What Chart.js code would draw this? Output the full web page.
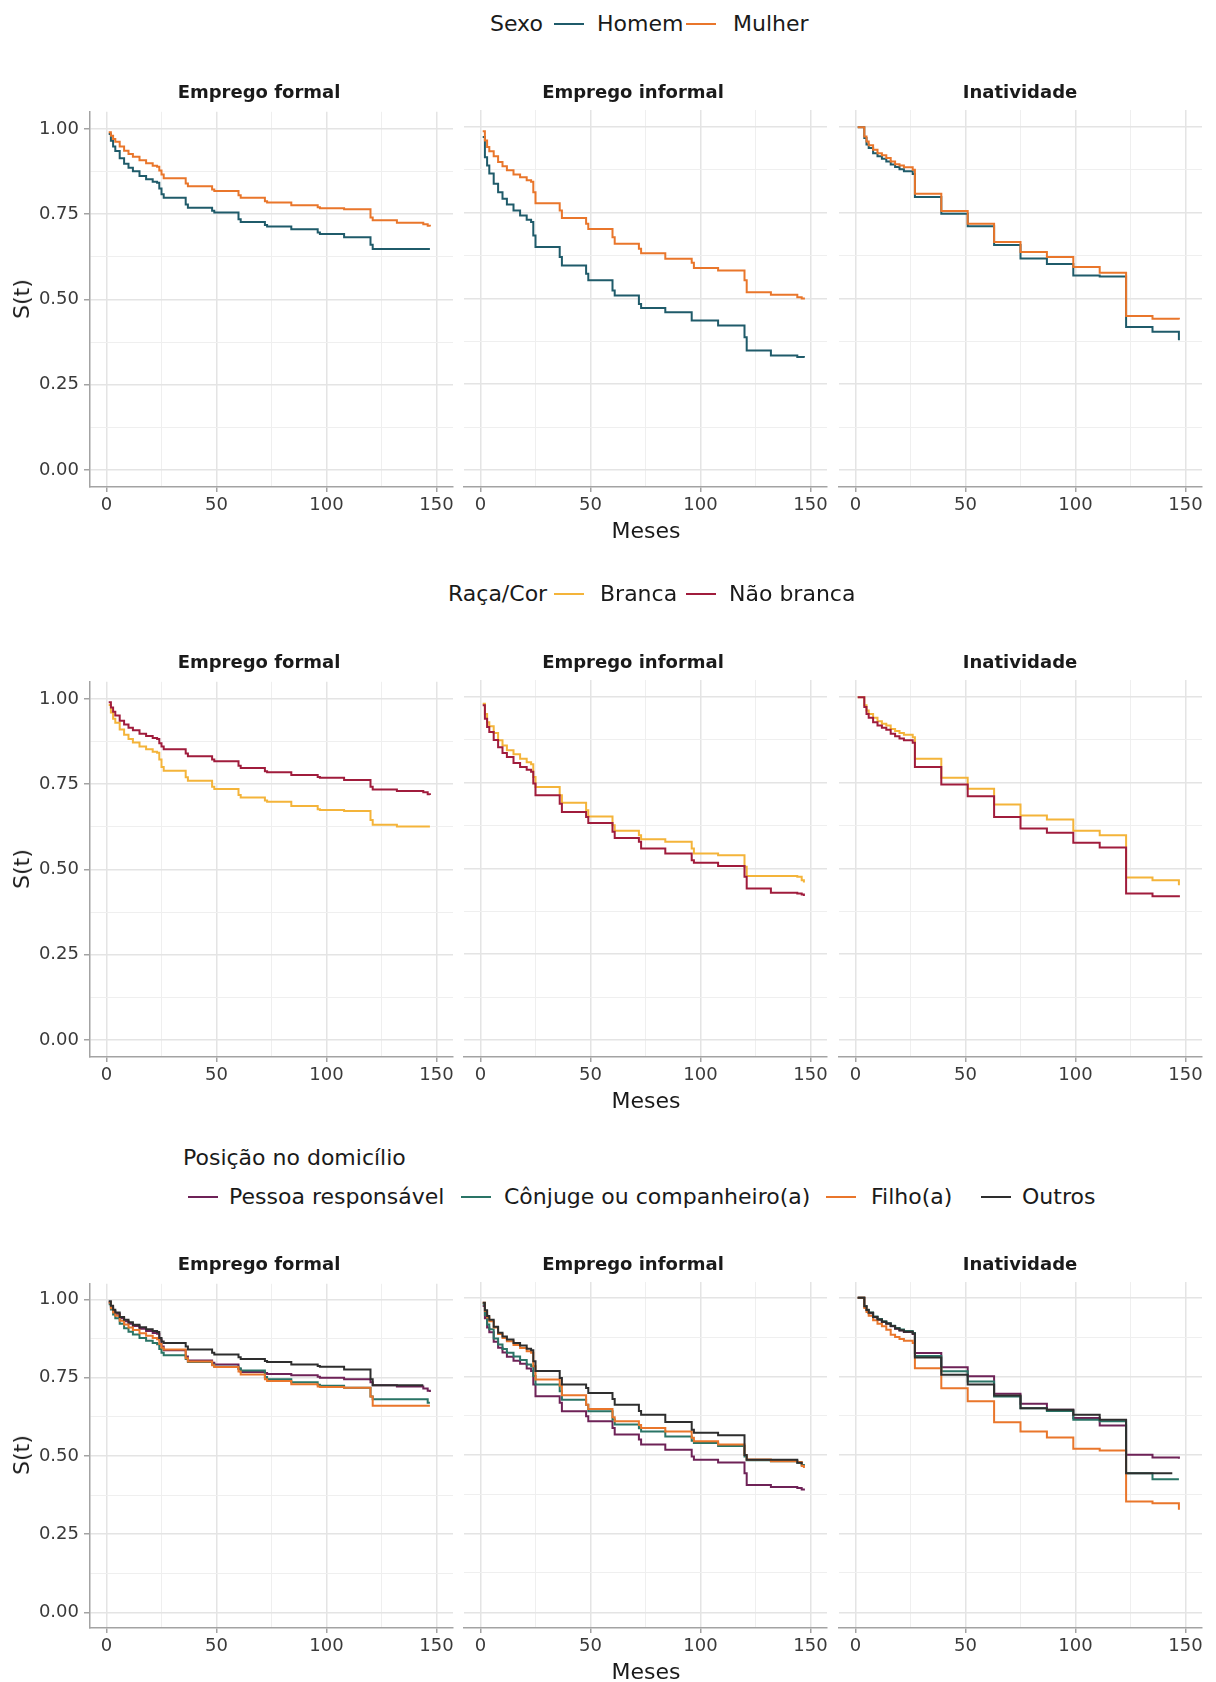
<!DOCTYPE html>
<html>
<head>
<meta charset="utf-8">
<script src="https://cdn.jsdelivr.net/npm/chart.js@4.4.1/dist/chart.umd.min.js"></script>
<style>
  body { margin: 0; background: #fff; font-family: "DejaVu Sans", sans-serif; }
  #page { position: relative; width: 1216px; height: 1682px; overflow: hidden; background: #fff; }
  .txt { position: absolute; white-space: nowrap; color: #1a1a1a; line-height: 1; }
  .key { position: absolute; height: 2px; }
  canvas { position: absolute; }
</style>
</head>
<body>
<div id="page"></div>
<script>
// ---- dados ----
var facetas = ['Emprego formal', 'Emprego informal', 'Inatividade'];

// grade de meses dos paineis de emprego e de inatividade
var mesesEmprego = [1, 2, 3, 4, 6, 8, 10, 12, 15, 18, 21, 23, 24, 25, 26, 36, 37, 48, 49, 60, 61, 72, 73, 84, 96, 97, 108, 120, 121, 132, 144, 146, 147];
var mesesInatividade = [1, 4, 5, 6, 8, 10, 12, 14, 16, 18, 20, 22, 26, 27, 39, 51, 63, 75, 87, 99, 111, 123, 135, 144, 147];

var xTicks = [0, 25, 50, 75, 100, 125, 150];
var xMajor = [0, 50, 100, 150];
var yTicks = [0, 0.125, 0.25, 0.375, 0.5, 0.625, 0.75, 0.875, 1];
var yMajor = [0, 0.25, 0.5, 0.75, 1];

// Sexo
var sexoNomes = ['Homem', 'Mulher'];
var sexoCores = ['#1f5b6a', '#e9762b'];
var formalHomem = [0.985, 0.965, 0.948, 0.935, 0.914, 0.898, 0.886, 0.876, 0.862, 0.852, 0.845, 0.842, 0.825, 0.808, 0.798, 0.778, 0.769, 0.760, 0.755, 0.735, 0.727, 0.718, 0.714, 0.706, 0.696, 0.692, 0.682, 0.660, 0.648, 0.648, 0.648, 0.648, 0.648];
var formalMulher = [0.990, 0.980, 0.970, 0.962, 0.948, 0.936, 0.926, 0.918, 0.908, 0.899, 0.892, 0.889, 0.878, 0.866, 0.855, 0.840, 0.832, 0.822, 0.818, 0.805, 0.798, 0.788, 0.784, 0.776, 0.770, 0.767, 0.764, 0.740, 0.732, 0.725, 0.720, 0.716, 0.714];
var informalHomem = [0.971, 0.912, 0.888, 0.865, 0.835, 0.810, 0.791, 0.774, 0.757, 0.742, 0.730, 0.723, 0.684, 0.650, 0.650, 0.621, 0.596, 0.572, 0.553, 0.523, 0.509, 0.484, 0.472, 0.460, 0.436, 0.436, 0.421, 0.387, 0.348, 0.334, 0.329, 0.329, 0.327];
var informalMulher = [0.988, 0.961, 0.942, 0.930, 0.915, 0.898, 0.886, 0.874, 0.862, 0.854, 0.845, 0.841, 0.810, 0.778, 0.778, 0.757, 0.735, 0.718, 0.703, 0.679, 0.660, 0.645, 0.632, 0.616, 0.604, 0.589, 0.582, 0.553, 0.518, 0.511, 0.504, 0.500, 0.497];
var inativHomem = [1.000, 0.968, 0.949, 0.939, 0.924, 0.915, 0.908, 0.900, 0.891, 0.884, 0.877, 0.871, 0.863, 0.796, 0.747, 0.711, 0.656, 0.617, 0.601, 0.567, 0.564, 0.417, 0.403, 0.403, 0.378];
var inativMulher = [1.000, 0.973, 0.958, 0.947, 0.934, 0.924, 0.918, 0.910, 0.900, 0.892, 0.888, 0.883, 0.876, 0.806, 0.755, 0.718, 0.665, 0.636, 0.621, 0.592, 0.575, 0.449, 0.441, 0.441, 0.439];

// Raça/Cor
var racaNomes = ['Branca', 'Não branca'];
var racaCores = ['#f4b43a', '#a01c3c'];
var formalBranca = [0.982, 0.960, 0.942, 0.930, 0.910, 0.895, 0.882, 0.872, 0.860, 0.852, 0.845, 0.842, 0.822, 0.800, 0.789, 0.770, 0.760, 0.742, 0.736, 0.718, 0.711, 0.702, 0.698, 0.686, 0.676, 0.674, 0.671, 0.645, 0.631, 0.626, 0.626, 0.626, 0.626];
var formalNaoBranca = [0.990, 0.975, 0.962, 0.951, 0.936, 0.925, 0.915, 0.908, 0.898, 0.891, 0.885, 0.882, 0.870, 0.860, 0.852, 0.840, 0.832, 0.822, 0.817, 0.804, 0.797, 0.788, 0.785, 0.777, 0.771, 0.769, 0.762, 0.742, 0.734, 0.730, 0.726, 0.720, 0.718];
var informalBranca = [0.981, 0.951, 0.927, 0.915, 0.895, 0.874, 0.859, 0.845, 0.833, 0.820, 0.810, 0.804, 0.767, 0.738, 0.738, 0.714, 0.692, 0.670, 0.652, 0.626, 0.610, 0.597, 0.585, 0.578, 0.558, 0.544, 0.539, 0.505, 0.478, 0.478, 0.476, 0.466, 0.459];
var informalNaoBranca = [0.976, 0.937, 0.913, 0.898, 0.875, 0.854, 0.837, 0.825, 0.808, 0.796, 0.788, 0.782, 0.748, 0.714, 0.714, 0.689, 0.665, 0.650, 0.633, 0.607, 0.589, 0.578, 0.558, 0.544, 0.524, 0.517, 0.507, 0.476, 0.442, 0.429, 0.427, 0.424, 0.420];
var inativBranca = [1.000, 0.976, 0.961, 0.951, 0.940, 0.930, 0.922, 0.917, 0.907, 0.901, 0.895, 0.890, 0.883, 0.820, 0.765, 0.733, 0.687, 0.655, 0.643, 0.610, 0.597, 0.474, 0.466, 0.466, 0.451];
var inativNaoBranca = [1.000, 0.971, 0.951, 0.940, 0.927, 0.917, 0.911, 0.905, 0.893, 0.886, 0.879, 0.874, 0.867, 0.796, 0.745, 0.711, 0.650, 0.617, 0.604, 0.575, 0.561, 0.427, 0.419, 0.419, 0.416];

// Posição no domicílio
var posNomes = ['Pessoa responsável', 'Cônjuge ou companheiro(a)', 'Filho(a)', 'Outros'];
var posCores = ['#6e2257', '#2a7466', '#e9762b', '#2e2e2e'];
var formalPessoa = [0.990, 0.975, 0.963, 0.954, 0.940, 0.930, 0.922, 0.915, 0.906, 0.899, 0.893, 0.890, 0.872, 0.850, 0.838, 0.818, 0.805, 0.798, 0.792, 0.778, 0.768, 0.765, 0.762, 0.758, 0.753, 0.750, 0.745, 0.735, 0.726, 0.722, 0.715, 0.708, 0.704];
var formalConjuge = [0.985, 0.968, 0.952, 0.940, 0.922, 0.908, 0.897, 0.888, 0.877, 0.868, 0.861, 0.857, 0.842, 0.830, 0.822, 0.810, 0.800, 0.792, 0.785, 0.780, 0.773, 0.752, 0.745, 0.735, 0.727, 0.724, 0.718, 0.690, 0.681, 0.681, 0.681, 0.670, 0.670];
var formalFilho = [0.990, 0.972, 0.958, 0.948, 0.932, 0.920, 0.910, 0.902, 0.892, 0.884, 0.877, 0.873, 0.858, 0.846, 0.840, 0.812, 0.802, 0.790, 0.784, 0.770, 0.760, 0.745, 0.739, 0.729, 0.722, 0.720, 0.718, 0.690, 0.660, 0.660, 0.660, 0.660, 0.660];
var formalOutros = [0.994, 0.980, 0.967, 0.958, 0.944, 0.935, 0.927, 0.919, 0.911, 0.905, 0.899, 0.896, 0.877, 0.866, 0.861, 0.850, 0.840, 0.830, 0.824, 0.815, 0.810, 0.803, 0.800, 0.792, 0.787, 0.785, 0.776, 0.745, 0.726, 0.726, 0.726, null, null];
var informalPessoa = [0.974, 0.935, 0.905, 0.890, 0.860, 0.841, 0.826, 0.812, 0.800, 0.790, 0.775, 0.767, 0.724, 0.687, 0.687, 0.666, 0.639, 0.623, 0.607, 0.586, 0.565, 0.549, 0.533, 0.517, 0.495, 0.485, 0.476, 0.442, 0.405, 0.398, 0.395, 0.390, 0.387];
var informalConjuge = [0.979, 0.945, 0.915, 0.900, 0.870, 0.851, 0.837, 0.825, 0.813, 0.802, 0.788, 0.782, 0.751, 0.724, 0.724, 0.703, 0.676, 0.660, 0.639, 0.613, 0.597, 0.585, 0.575, 0.559, 0.545, 0.538, 0.529, 0.495, 0.483, 0.480, 0.475, 0.468, 0.464];
var informalFilho = [0.984, 0.958, 0.937, 0.925, 0.905, 0.885, 0.872, 0.862, 0.850, 0.840, 0.830, 0.825, 0.782, 0.740, 0.740, 0.720, 0.690, 0.660, 0.646, 0.620, 0.607, 0.595, 0.586, 0.575, 0.555, 0.544, 0.533, 0.500, 0.486, 0.480, 0.478, 0.465, 0.459];
var informalOutros = [0.984, 0.960, 0.942, 0.930, 0.908, 0.889, 0.877, 0.867, 0.856, 0.848, 0.838, 0.833, 0.798, 0.767, 0.767, 0.745, 0.724, 0.713, 0.697, 0.678, 0.660, 0.640, 0.628, 0.605, 0.580, 0.571, 0.563, 0.500, 0.485, 0.485, 0.475, 0.470, null];
var inativPessoa = [1.000, 0.972, 0.960, 0.951, 0.938, 0.930, 0.923, 0.917, 0.909, 0.901, 0.896, 0.891, 0.885, 0.824, 0.779, 0.750, 0.695, 0.663, 0.644, 0.618, 0.594, 0.501, 0.492, 0.492, 0.488];
var inativConjuge = [1.000, 0.974, 0.962, 0.953, 0.940, 0.932, 0.925, 0.919, 0.911, 0.904, 0.899, 0.894, 0.888, 0.815, 0.766, 0.734, 0.686, 0.649, 0.640, 0.612, 0.607, 0.442, 0.423, 0.423, 0.423];
var inativFilho = [1.000, 0.967, 0.955, 0.943, 0.928, 0.917, 0.909, 0.898, 0.882, 0.875, 0.869, 0.863, 0.856, 0.776, 0.712, 0.671, 0.604, 0.575, 0.556, 0.520, 0.514, 0.352, 0.347, 0.347, 0.326];
var inativOutros = [1.000, 0.973, 0.961, 0.952, 0.939, 0.931, 0.924, 0.918, 0.910, 0.902, 0.897, 0.892, 0.886, 0.810, 0.755, 0.724, 0.689, 0.649, 0.644, 0.628, 0.612, 0.442, 0.442, 0.442, null];

// ---- layout ----
var COL_LEFT = [90, 464, 839];
var PANEL_W = 363;
var ROW_TOP = [110, 680, 1282];
var ROW_H = [377, 377, 346];
var TITLE_X = [259, 633, 1020];
var PAD_T = 14, PAD_R = 26, XAXIS_H = 34;
var AXIS_COLOR = '#a3a3a3';
var TICK_TEXT = '#3a3a3a';
var FONT = '"DejaVu Sans", sans-serif';

var page = document.getElementById('page');

function addText(str, x, y, size, center, bold, rotate) {
	var el = document.createElement('div');
	el.className = 'txt';
	el.textContent = str;
	el.style.left = x + 'px';
	el.style.top = y + 'px';
	el.style.fontSize = size + 'px';
	if (bold) el.style.fontWeight = 'bold';
	el.style.transform = 'translate(' + (center ? '-50%' : '0') + ', -50%)' + (rotate ? ' rotate(-90deg)' : '');
	page.appendChild(el);
}

function addKey(x, y, w, color) {
	var el = document.createElement('div');
	el.className = 'key';
	el.style.left = x + 'px';
	el.style.top = (y - 1) + 'px';
	el.style.width = w + 'px';
	el.style.background = color;
	page.appendChild(el);
}

function isMajor(v, list) {
	for (var i = 0; i < list.length; i++) {
		if (Math.abs(list[i] - v) < 1e-9) return true;
	}
	return false;
}

function drawPanel(row, col, meses, valores, cores) {
	var first = col === 0;
	var lm = first ? COL_LEFT[0] : 12;
	var h = ROW_H[row];
	var cw = lm + PANEL_W + PAD_R;
	var ch = PAD_T + h + XAXIS_H;

	var cv = document.createElement('canvas');
	cv.width = cw;
	cv.height = ch;
	cv.style.width = cw + 'px';
	cv.style.height = ch + 'px';
	cv.style.left = (COL_LEFT[col] - lm) + 'px';
	cv.style.top = (ROW_TOP[row] - PAD_T) + 'px';
	page.appendChild(cv);

	var datasets = valores.map(function (vals, i) {
		return {
			data: meses.map(function (m, k) { return { x: m, y: vals[k] }; }),
			borderColor: cores[i],
			borderWidth: 2,
			stepped: true,
			pointRadius: 0,
			fill: false,
			spanGaps: false,
			order: valores.length - i
		};
	});

	new Chart(cv, {
		type: 'line',
		data: { datasets: datasets },
		options: {
			responsive: false,
			animation: false,
			devicePixelRatio: 1,
			events: [],
			layout: { padding: { left: first ? 0 : lm, right: PAD_R, top: PAD_T, bottom: 0 } },
			plugins: { legend: { display: false }, tooltip: { enabled: false } },
			scales: {
				x: {
					type: 'linear',
					min: -7.5,
					max: 157.5,
					afterBuildTicks: function (s) { s.ticks = xTicks.map(function (v) { return { value: v }; }); },
					afterFit: function (s) { s.height = XAXIS_H; },
					ticks: {
						autoSkip: false,
						maxRotation: 0,
						padding: 3,
						color: TICK_TEXT,
						font: { family: FONT, size: 18 },
						callback: function (v) { return isMajor(v, xMajor) ? String(v) : ''; }
					},
					grid: {
						color: function (c) { return isMajor(c.tick.value, xMajor) ? '#e4e4e4' : '#efefef'; },
						lineWidth: function (c) { return isMajor(c.tick.value, xMajor) ? 1.5 : 1; },
						tickLength: 5,
						tickWidth: 1.5,
						tickColor: function (c) { return isMajor(c.tick.value, xMajor) ? AXIS_COLOR : 'rgba(0,0,0,0)'; }
					},
					border: { display: true, color: AXIS_COLOR, width: 1.5 }
				},
				y: {
					type: 'linear',
					min: -0.05,
					max: 1.05,
					afterBuildTicks: function (s) { s.ticks = yTicks.map(function (v) { return { value: v }; }); },
					afterFit: function (s) { s.width = first ? COL_LEFT[0] : 0; },
					ticks: {
						display: first,
						autoSkip: false,
						padding: 5,
						color: TICK_TEXT,
						font: { family: FONT, size: 18 },
						callback: function (v) { return isMajor(v, yMajor) ? v.toFixed(2) : ''; }
					},
					grid: {
						color: function (c) { return isMajor(c.tick.value, yMajor) ? '#e4e4e4' : '#efefef'; },
						lineWidth: function (c) { return isMajor(c.tick.value, yMajor) ? 1.5 : 1; },
						drawTicks: first,
						tickLength: 6,
						tickWidth: 1.5,
						tickColor: function (c) { return isMajor(c.tick.value, yMajor) ? AXIS_COLOR : 'rgba(0,0,0,0)'; }
					},
					border: { display: first, color: AXIS_COLOR, width: 1.5 }
				}
			}
		}
	});
}

function drawRow(row, paineis, cores) {
	for (var c = 0; c < 3; c++) {
		drawPanel(row, c, c < 2 ? mesesEmprego : mesesInatividade, paineis[c], cores);
		addText(facetas[c], TITLE_X[c], ROW_TOP[row] - 18, 18, true, true, false);
	}
	var meio = ROW_TOP[row] + ROW_H[row] / 2;
	addText('S(t)', 22, meio, 22, true, false, true);
	addText('Meses', 646, ROW_TOP[row] + ROW_H[row] + 44, 22, true, false, false);
}

function drawLegend(titulo, tituloX, tituloY, nomes, cores, keyXs, labelXs, y) {
	addText(titulo, tituloX, tituloY, 22, false, false, false);
	for (var i = 0; i < nomes.length; i++) {
		addKey(keyXs[i], y, 30, cores[i]);
		addText(nomes[i], labelXs[i], y, 22, false, false, false);
	}
}

// linha 1: sexo
drawLegend('Sexo', 490, 23.5, sexoNomes, sexoCores, [554, 686], [597, 733], 23.5);
drawRow(0, [
	[formalHomem, formalMulher],
	[informalHomem, informalMulher],
	[inativHomem, inativMulher]
], sexoCores);

// linha 2: raça/cor
drawLegend('Raça/Cor', 448, 594, racaNomes, racaCores, [554, 686], [600, 729], 594);
drawRow(1, [
	[formalBranca, formalNaoBranca],
	[informalBranca, informalNaoBranca],
	[inativBranca, inativNaoBranca]
], racaCores);

// linha 3: posição no domicílio
drawLegend('Posição no domicílio', 183, 1157.5, posNomes, posCores, [188, 461, 826, 981], [229, 504, 871, 1022], 1196.5);
drawRow(2, [
	[formalPessoa, formalConjuge, formalFilho, formalOutros],
	[informalPessoa, informalConjuge, informalFilho, informalOutros],
	[inativPessoa, inativConjuge, inativFilho, inativOutros]
], posCores);
</script>
</body>
</html>
